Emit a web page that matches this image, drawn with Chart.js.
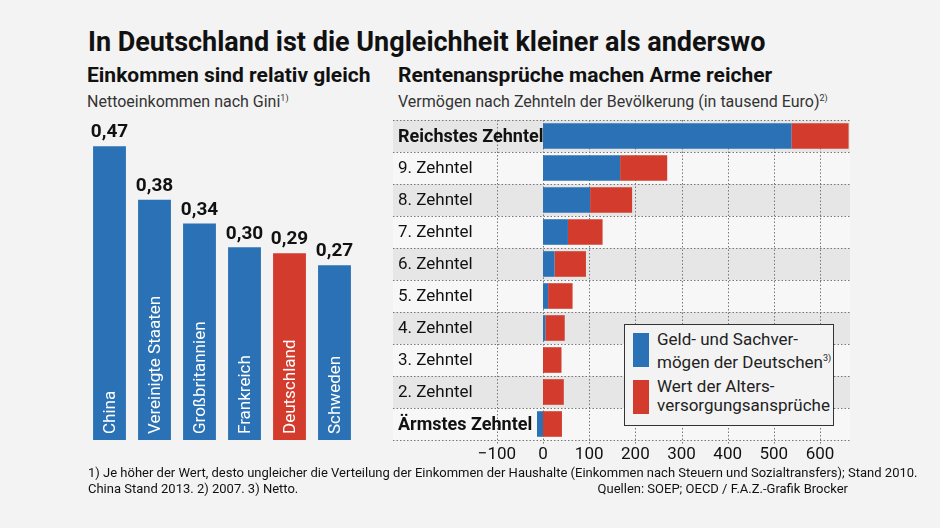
<!DOCTYPE html><html><head><meta charset="utf-8">
<script src="https://cdn.jsdelivr.net/npm/chart.js@4"></script>
<style>
body{margin:0;width:940px;height:528px;background:#f3f3f3;font-family:'Liberation Sans Narrow','Roboto',sans-serif;position:relative;overflow:hidden;color:#111}
canvas{position:absolute;left:0;top:0}
.t{position:absolute;white-space:nowrap}
sup{font-size:9px}
</style></head><body>
<div class="t" style="left:88px;top:26px;font-size:27px;font-weight:bold">In Deutschland ist die Ungleichheit kleiner als anderswo</div>
<div class="t" style="left:87px;top:63px;font-size:21px;font-weight:bold">Einkommen sind relativ gleich</div>
<div class="t" style="left:87px;top:92px;font-size:16px;color:#333">Nettoeinkommen nach Gini<sup>1)</sup></div>
<div class="t" style="left:398px;top:63px;font-size:21px;font-weight:bold">Rentenansprüche machen Arme reicher</div>
<div class="t" style="left:398px;top:92px;font-size:16px;color:#333">Vermögen nach Zehnteln der Bevölkerung (in tausend Euro)<sup>2)</sup></div>
<div style="position:absolute;left:0;top:0;width:940px;height:528px"><canvas id="c1" width="940" height="528"></canvas></div>
<div style="position:absolute;left:0;top:0;width:940px;height:528px"><canvas id="c2" width="940" height="528"></canvas></div>
<div class="t" style="left:624px;top:324px;width:208px;height:100px;border:1.5px solid #333;background:#f3f3f3;font-size:17px;line-height:19px;color:#222">
<div style="position:absolute;left:8px;top:8px;width:16px;height:34px;background:#2a72b5"></div>
<div style="position:absolute;left:32px;top:5px">Geld- und Sachver-<br>mögen der Deutschen<sup>3)</sup></div>
<div style="position:absolute;left:8px;top:55px;width:16px;height:34px;background:#d33b2c"></div>
<div style="position:absolute;left:32px;top:52px">Wert der Alters-<br>versorgungsansprüche</div>
</div>
<div class="t" style="left:88px;top:465px;font-size:13px;line-height:16px">1) Je höher der Wert, desto ungleicher die Verteilung der Einkommen der Haushalte (Einkommen nach Steuern und Sozialtransfers); Stand 2010.<br>China Stand 2013. 2) 2007. 3) Netto.</div>
<div class="t" style="right:92px;top:481px;font-size:13px">Quellen: SOEP; OECD / F.A.Z.-Grafik Brocker</div>
<script>
const countries=['China','Vereinigte Staaten','Großbritannien','Frankreich','Deutschland','Schweden'];
const gini=[0.47,0.38,0.34,0.30,0.29,0.27];
const giniLabels=['0,47','0,38','0,34','0,30','0,29','0,27'];
const deciles=['Reichstes Zehntel','9. Zehntel','8. Zehntel','7. Zehntel','6. Zehntel','5. Zehntel','4. Zehntel','3. Zehntel','2. Zehntel','Ärmstes Zehntel'];
const assets=[538,167,102,54,25,11,5,0,0,-13];
const pensions=[124,102,91,75,68,53,42,40,45,41];
const xTicks=[-100,0,100,200,300,400,500,600];
const BLUE='#2a72b5',RED='#d33b2c',F="'Liberation Sans Narrow','Roboto',sans-serif";

const lblPlugin={id:'lbl',afterDatasetsDraw(ch){const c=ch.ctx;const m=ch.getDatasetMeta(0);
 m.data.forEach((b,i)=>{c.save();c.fillStyle='#111';c.font='bold 19px '+F;c.textAlign='center';c.textBaseline='bottom';
 c.fillText(giniLabels[i],b.x,b.y-4);
 c.translate(b.x,ch.chartArea.bottom-6);c.rotate(-Math.PI/2);c.fillStyle='#fff';c.font='17px '+F;c.textAlign='left';c.textBaseline='middle';c.fillText(countries[i],0,1);c.restore();});}};
new Chart(document.getElementById('c1'),{type:'bar',
 data:{labels:countries,datasets:[{data:gini,base:-0.024,backgroundColor:countries.map(c=>c==='Deutschland'?RED:BLUE),barPercentage:0.73,categoryPercentage:1}]},
 options:{responsive:false,animation:false,layout:{padding:{left:87,right:583,top:120,bottom:88}},
 plugins:{legend:{display:false},tooltip:{enabled:false}},
 scales:{x:{display:false},y:{display:false,min:-0.024,max:0.514}}},plugins:[lblPlugin]});

const rowPlugin={id:'rows',beforeDraw(ch){const c=ch.ctx,a=ch.chartArea,y=ch.scales.y;const h=(a.bottom-a.top)/deciles.length;
 c.save();deciles.forEach((d,i)=>{c.fillStyle=i%2===0?'#e6e6e6':'#f7f7f7';c.fillRect(a.left,a.top+i*h,a.right-a.left,h);});
 c.setLineDash([1.5,2]);c.strokeStyle='#777';c.lineWidth=1;
 for(let i=0;i<=deciles.length;i++){const yy=Math.round(a.top+i*h)+0.5;c.beginPath();c.moveTo(a.left,yy);c.lineTo(a.right,yy);c.stroke();}
 const x=ch.scales.x;xTicks.forEach(t=>{const xx=Math.round(x.getPixelForValue(t))+0.5;c.beginPath();c.moveTo(xx,a.top);c.lineTo(xx,a.bottom+4);c.stroke();});
 c.restore();},
 afterDatasetsDraw(ch){const c=ch.ctx,a=ch.chartArea,y=ch.scales.y,x=ch.scales.x;c.save();c.textBaseline='middle';
 deciles.forEach((d,i)=>{c.font=(i===0||i===9?'bold 18px ':'17px ')+F;c.fillStyle='#111';c.textAlign='left';c.fillText(d,a.left+5,y.getPixelForValue(i)+1);});
 c.font='17px '+F;c.textAlign='center';c.textBaseline='top';xTicks.forEach(t=>{c.fillText(t<0?'−'+Math.abs(t):String(t),x.getPixelForValue(t),a.bottom+6);});
 c.restore();}};
new Chart(document.getElementById('c2'),{type:'bar',
 data:{labels:deciles,datasets:[{data:assets,backgroundColor:BLUE,barPercentage:0.8,categoryPercentage:1},{data:pensions,backgroundColor:RED,barPercentage:0.8,categoryPercentage:1}]},
 options:{indexAxis:'y',responsive:false,animation:false,layout:{padding:{left:393,right:90,top:120,bottom:88}},
 plugins:{legend:{display:false},tooltip:{enabled:false}},
 scales:{x:{display:false,stacked:true,min:-325,max:665},y:{display:false,stacked:true}}},plugins:[rowPlugin]});
</script></body></html>
